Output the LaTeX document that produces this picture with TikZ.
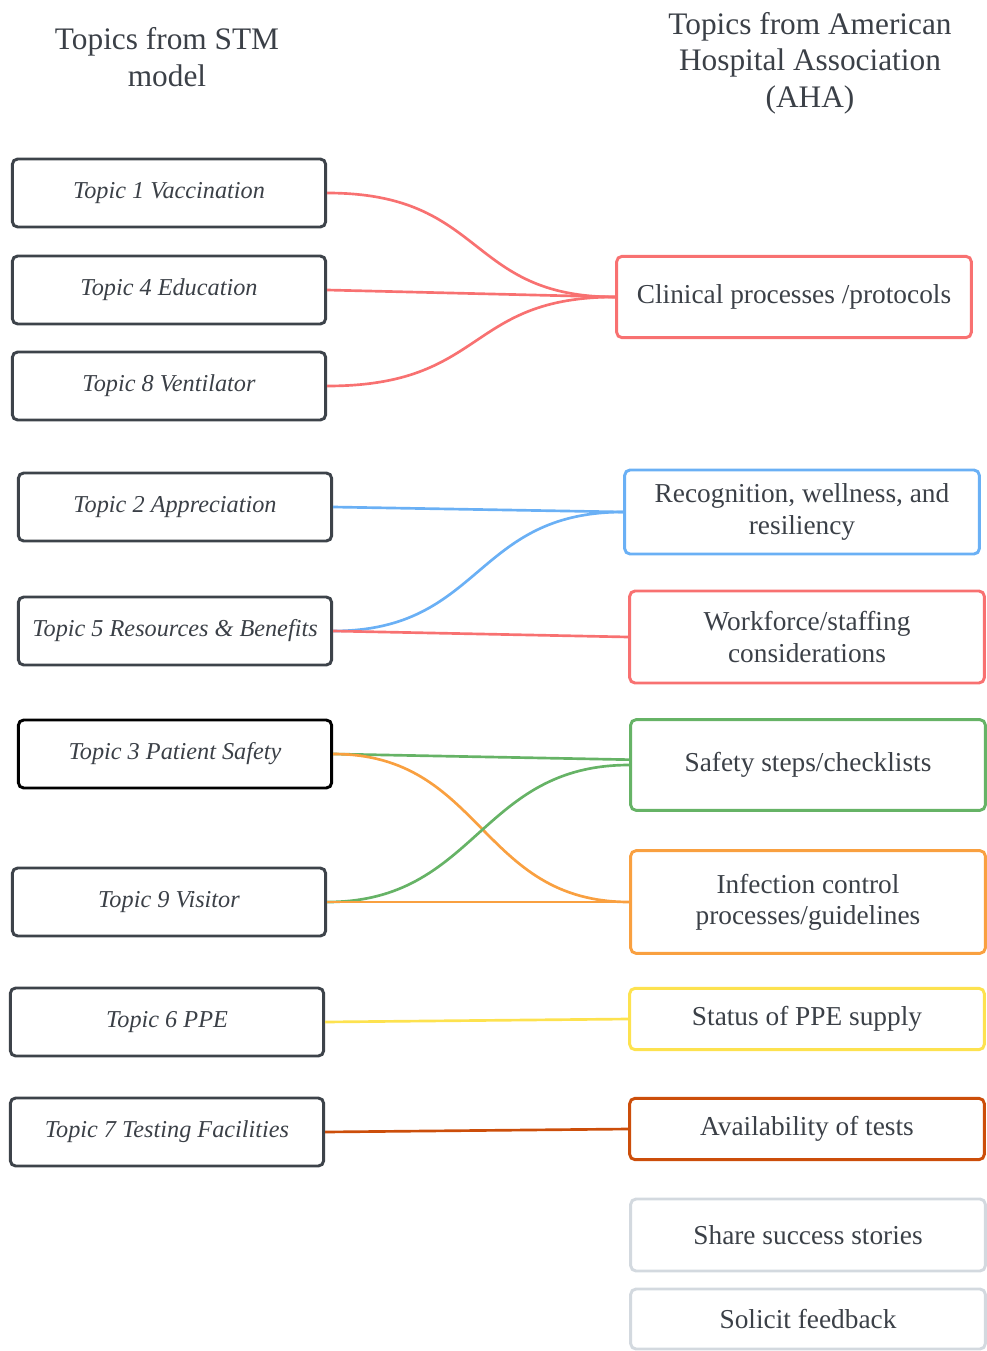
\documentclass[tikz,border=0pt]{standalone}
\usepackage{fontspec}
\setmainfont{Liberation Serif}
\definecolor{boxgray}{HTML}{3D434A}
\definecolor{textgray}{HTML}{3B4047}
\definecolor{ahared}{HTML}{F87171}
\definecolor{ahablue}{HTML}{6AB0F5}
\definecolor{ahagreen}{HTML}{66B366}
\definecolor{ahaorange}{HTML}{F9A040}
\definecolor{ahayellow}{HTML}{FDE24F}
\definecolor{ahabrown}{HTML}{CC4E0A}
\definecolor{ahalight}{HTML}{D3D9DF}
\begin{document}
\begin{tikzpicture}[x=0.75pt, y=-0.75pt,
    stm/.style={draw=boxgray, line width=2.2pt, rounded corners=4pt, minimum width=235pt, minimum height=51pt, text=textgray, font=\fontsize{18.2}{22}\selectfont\itshape},
    aha/.style={draw=#1, line width=2.2pt, rounded corners=4pt, minimum width=266pt, align=center, text=textgray, font=\fontsize{20.5}{23.5}\selectfont},
    link/.style={draw=#1, line width=2pt},
    head/.style={align=center, text=textgray, font=\fontsize{23.5}{27.5}\selectfont}]
    \useasboundingbox (0,0) rectangle (987,1351);

    % Titoli
    \node (hstm) at (167,57) [head] {Topics from STM\\model};
    \node (haha) at (810,63) [head] {Topics from American\\Hospital Association\\(AHA)};

    % Colonna sinistra
    \node (t1) at (169,193) [stm] {Topic 1 Vaccination};
    \node (t4) at (169,290) [stm] {Topic 4 Education};
    \node (t8) at (169,386) [stm] {Topic 8 Ventilator};
    \node (t2) at (175,507) [stm] {Topic 2 Appreciation};
    \node (t5) at (175,631) [stm] {Topic 5 Resources \& Benefits};
    \node (t3) at (175,754) [stm, draw=black] {Topic 3 Patient Safety};
    \node (t9) at (169,902) [stm] {Topic 9 Visitor};
    \node (t6) at (167,1022) [stm] {Topic 6 PPE};
    \node (t7) at (167,1132) [stm] {Topic 7 Testing Facilities};

    % Colonna destra
    \node (clin) at (794,297) [aha=ahared, minimum height=61pt] {Clinical processes /protocols};
    \node (recog) at (802,512) [aha=ahablue, minimum height=63pt] {Recognition, wellness, and\\resiliency};
    \node (work) at (807,637) [aha=ahared, minimum height=69pt] {Workforce/staffing\\considerations};
    \node (safe) at (808,765) [aha=ahagreen, minimum height=68pt] {Safety steps/checklists};
    \node (infec) at (808,902) [aha=ahaorange, minimum height=77pt] {Infection control\\processes/guidelines};
    \node (ppe) at (807,1019) [aha=ahayellow, minimum height=46pt] {Status of PPE supply};
    \node (tests) at (807,1129) [aha=ahabrown, minimum height=46pt] {Availability of tests};
    \node (share) at (808,1235) [aha=ahalight, minimum height=54pt] {Share success stories};
    \node (solic) at (808,1319) [aha=ahalight, minimum height=45pt] {Solicit feedback};

    % Collegamenti
    \draw[link=ahared] (t1.east) .. controls +(160,0) and +(-150,0) .. (clin.west);
    \draw[link=ahared] (t4.east) -- (clin.west);
    \draw[link=ahared] (t8.east) .. controls +(160,0) and +(-150,0) .. (clin.west);
    \draw[link=ahablue] (t2.east) -- (recog.west);
    \draw[link=ahablue] (t5.east) .. controls +(150,0) and +(-150,0) .. (recog.west);
    \draw[link=ahared] (t5.east) -- (work.west);
    \draw[link=ahagreen] (t3.east) -- ([yshift=4pt]safe.west);
    \draw[link=ahaorange] (t3.east) .. controls +(150,0) and +(-150,0) .. (infec.west);
    \draw[link=ahagreen] (t9.east) .. controls +(150,0) and +(-150,0) .. (safe.west);
    \draw[link=ahaorange] (t9.east) -- (infec.west);
    \draw[link=ahayellow] (t6.east) -- (ppe.west);
    \draw[link=ahabrown] (t7.east) -- (tests.west);
\end{tikzpicture}
\end{document}
